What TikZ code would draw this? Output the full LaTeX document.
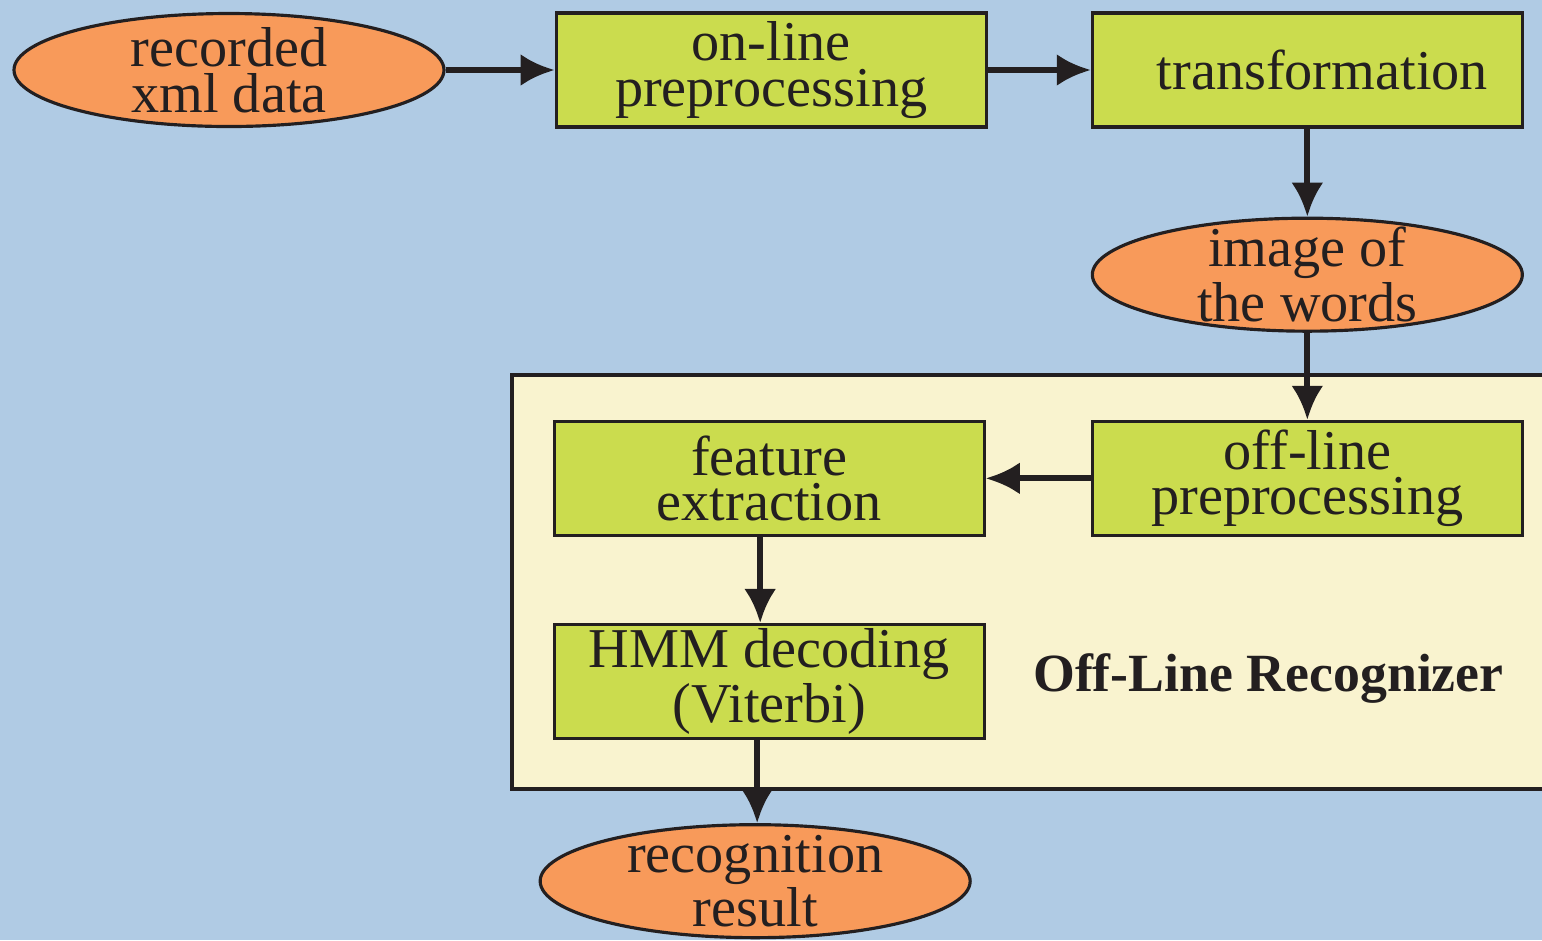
\documentclass[tikz,border=0pt]{standalone}
\usepackage{fontspec}
\setmainfont{Liberation Serif}
\usepackage{tikz}
\usetikzlibrary{arrows.meta, shapes.geometric, positioning}

\definecolor{skyblue}{RGB}{176,203,228}
\definecolor{peach}{RGB}{248,154,90}
\definecolor{lime}{RGB}{203,220,78}
\definecolor{cream}{RGB}{249,243,207}
\definecolor{ink}{RGB}{35,31,32}

\begin{document}
\begin{tikzpicture}[
  box/.style={draw=ink, line width=0.9pt, fill=lime, align=center,
              minimum width=4.3cm, minimum height=1.14cm, inner sep=0pt,
              font=\fontsize{16}{13}\selectfont, text=ink},
  oval/.style={ellipse, draw=ink, line width=0.9pt, fill=peach, align=center,
               minimum width=4.3cm, minimum height=1.13cm,
               inner xsep=0pt, inner ysep=-3.5pt,
               font=\fontsize{16}{13}\selectfont, text=ink},
  panel/.style={draw=ink, line width=1.2pt, fill=cream},
  arr/.style={-{Latex[length=0.34cm, width=0.32cm]}, line width=1.7pt, draw=ink}
]
  \useasboundingbox (0,0) rectangle (15.42,-9.40);
  \clip (0,0) rectangle (15.42,-9.40);
  \fill[skyblue] (0,0) rectangle (15.42,-9.40);

  % Recognizer frame
  \node[panel, anchor=north west, minimum width=11cm, minimum height=4.14cm]
       (recog) at (5.10,-3.73) {};

  % On-line part
  \node[oval] (rec) at (2.29,-0.70) {recorded\\xml data};
  \node[box, right=1.09cm of rec] (onl) {on-line\\preprocessing};
  \node[box, right=1.03cm of onl] (trans) {\hspace*{0.3cm}transformation};
  \node[oval, below=0.88cm of trans] (img) {image of\\the words};

  \draw[arr](rec)--(onl);
  \draw[arr](onl)--(trans);
  \draw[arr](trans)--(img);

  % Off-line part
  \node[box, below=0.87cm of img] (offpre) {off-line\\preprocessing};
  \node[box, left=1.05cm of offpre] (feat) {feature\\extraction};
  \node[box, below=0.86cm of feat] (hmm) {HMM decoding\\(Viterbi)};
  \node[oval, below=0.83cm of hmm, xshift=-0.14cm] (res) {recognition\\result};

  \draw[arr](img)--(offpre);
  \draw[arr](offpre)--(feat);
  \draw[arr]([xshift=-0.09cm]feat.south)--([xshift=-0.09cm]feat.south |- hmm.north);
  \draw[arr]([xshift=-0.12cm]hmm.south)--([xshift=-0.12cm]hmm.south |- res.north);

  \node[font=\fontsize{15.3}{14}\selectfont\bfseries, text=ink,
        right=0.35cm of hmm, yshift=0.03cm] (title) {Off-Line Recognizer};
\end{tikzpicture}
\end{document}
